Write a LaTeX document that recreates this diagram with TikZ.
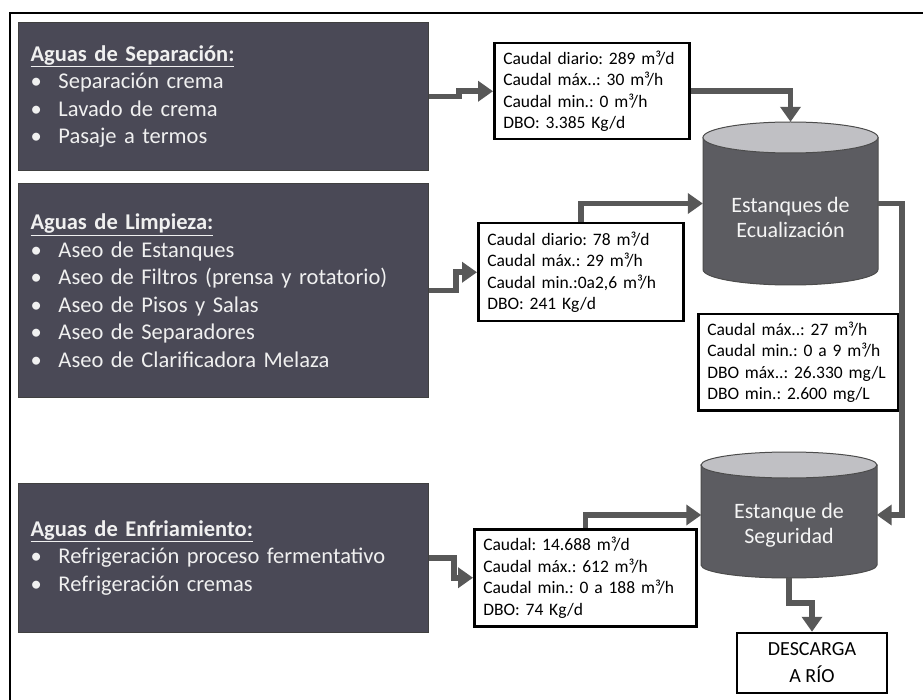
\documentclass[tikz,border=0pt]{standalone}
\usepackage{fontspec}
\setmainfont{Carlito}
\usetikzlibrary{arrows.meta}
\frenchspacing

\definecolor{boxgray}{RGB}{74,73,86}
\definecolor{tankgray}{RGB}{92,92,97}
\definecolor{tanktop}{RGB}{192,192,196}
\definecolor{flowgray}{RGB}{88,88,88}
\newcommand\bul[1]{\makebox[28pt][l]{\textbullet}#1}

\begin{document}
\begin{tikzpicture}[x=1pt,y=-1pt,
  source/.style={draw=black!75, line width=1pt, fill=boxgray, text=white!88!gray,
    anchor=north west, inner xsep=12pt, text width=386pt, align=left,
    font=\fontsize{22.5}{27.5}\selectfont},
  datos/.style={draw=black, line width=2.5pt, fill=white, anchor=north west,
    inner xsep=9pt, align=left, font=\fontsize{17.5}{21.5}\selectfont},
  tank/.style={minimum width=175pt, inner sep=0pt},
  tanktext/.style={text=white!92!gray, align=center, font=\fontsize{22}{25}\selectfont},
  flow/.style={line width=5.5pt, draw=flowgray, -{Triangle[length=15pt,width=20pt]}}]

\clip (0,0) rectangle (923,700);
\fill[white] (0,0) rectangle (923,700);

% marco
\draw[line width=1.5pt] (10,720) -- (10,13) -- (940,13);

% fuentes de agua
\node[source, minimum height=148pt] (sepbox) at (18,22)
  {\underline{\textbf{Aguas de Separación:}}\\
   \bul{Separación crema}\\
   \bul{Lavado de crema}\\
   \bul{Pasaje a termos}};
\node[source, minimum height=214pt] (limbox) at (18,183)
  {\underline{\textbf{Aguas de Limpieza:}}\\
   \bul{Aseo de Estanques}\\
   \bul{Aseo de Filtros (prensa y rotatorio)}\\
   \bul{Aseo de Pisos y Salas}\\
   \bul{Aseo de Separadores}\\
   \bul{Aseo de Clarificadora Melaza}};
\node[source, minimum height=149pt] (enfbox) at (18,483)
  {\underline{\textbf{Aguas de Enfriamiento:}}\\
   \bul{Refrigeración proceso fermentativo}\\
   \bul{Refrigeración cremas}};

% datos de caudal
\node[datos, text width=177pt, minimum height=96pt] (dat1) at (493,42)
  {Caudal diario: 289 m³/d\\Caudal máx..: 30 m³/h\\Caudal min.: 0 m³/h\\DBO: 3.385 Kg/d};
\node[datos, text width=187pt, minimum height=98pt] (dat2) at (477,222)
  {Caudal diario: 78 m³/d\\Caudal máx.: 29 m³/h\\Caudal min.:0a2,6 m³/h\\DBO: 241 Kg/d};
\node[datos, text width=182pt, minimum height=96pt] (dat3) at (697,313)
  {Caudal máx..: 27 m³/h\\Caudal min.: 0 a 9 m³/h\\DBO máx..: 26.330 mg/L\\DBO min.: 2.600 mg/L};
\node[datos, text width=204pt, minimum height=97pt] (dat4) at (473,528)
  {Caudal: 14.688 m³/d\\Caudal máx.: 612 m³/h\\Caudal min.: 0 a 188 m³/h\\DBO: 74 Kg/d};

% estanques
\path[fill=tankgray, draw=black!70, line width=1pt] (703,137.5) -- (703,269.5)
  arc[start angle=180, end angle=0, x radius=87.5, y radius=15.5] -- (878,137.5) -- cycle;
\path[fill=tanktop, draw=black!70, line width=1pt] (790.5,137.5) ellipse[x radius=87.5, y radius=15.5];
\node[tank, minimum height=163pt, label={[tanktext, yshift=-14pt]center:Estanques de\\Ecualización}] (ecu) at (790.5,203.5) {};

\path[fill=tankgray, draw=black!70, line width=1pt] (701,465) -- (701,565)
  arc[start angle=180, end angle=0, x radius=88, y radius=13] -- (877,465) -- cycle;
\path[fill=tanktop, draw=black!70, line width=1pt] (789,465) ellipse[x radius=88, y radius=13];
\node[tank, minimum height=126pt, label={[tanktext, yshift=-10pt]center:Estanque de\\Seguridad}] (seg) at (789,515) {};

\node[draw=black, line width=2.5pt, minimum width=150pt, minimum height=60pt, align=center,
  font=\fontsize{20}{27}\selectfont] (rio) at (812,663) {DESCARGA\\A RÍO};

% flujos
\draw[flow] (sepbox.east) -- ++(30,0) |- (dat1.west);
\draw[flow] (limbox.east) -- ++(27,0) |- (dat2.west);
\draw[flow] (enfbox.east) -- ++(25,0) |- (dat4.west);
\draw[flow] (dat1.east) -| (ecu.north);
\draw[flow] (dat2.north) |- (ecu.west);
\draw[flow] (ecu.east) -- ++(24,0) |- (seg.east);
\draw[flow] (dat4.north) |- (seg.west);
\draw[flow] (seg.south) -- ++(0,25) -| (rio.north);
\end{tikzpicture}
\end{document}
